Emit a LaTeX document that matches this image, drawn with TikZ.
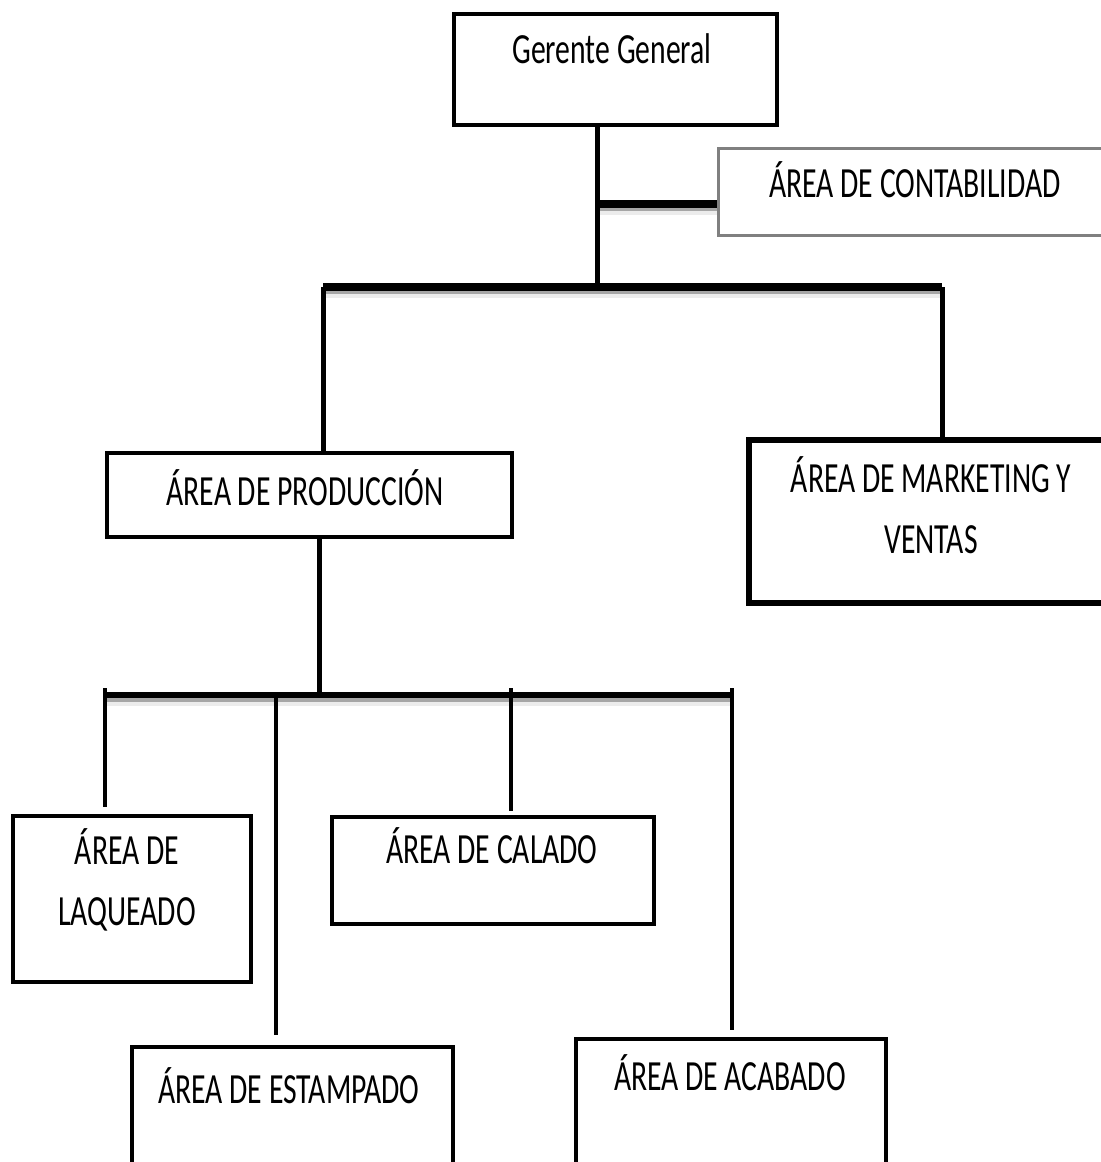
\documentclass[tikz,border=0pt]{standalone}
\usepackage{fontspec}
\setmainfont{Carlito}[FakeStretch=0.69]
\usepackage{xcolor}
\usetikzlibrary{positioning,fit}

\begin{document}
\begin{tikzpicture}[x=0.5pt,y=-0.5pt,
    box/.style={draw, line width=2pt, inner sep=0pt},
    lbl/.style={anchor=base, inner sep=0pt, align=center, font=\fontsize{21.5}{30.5}\selectfont},
    conn/.style={line width=2.5pt},
    bar/.style={line width=4pt,
        preaction={draw=gray!15, line width=4pt, transform canvas={yshift=-3.5pt}},
        preaction={draw=gray!70, line width=4pt, transform canvas={yshift=-1.5pt}}}]
    \useasboundingbox (0,0) rectangle (1101,1162);

    % Boxes
    \node[box, fit={(454,14) (777,125)}] (gg) {};
    \node[box, draw=gray, line width=1.5pt, fit={(718,148) (1110,235)}] (cont) {};
    \node[box, line width=1.8pt, fit={(107,453) (512,537)}] (prod) {};
    \node[box, line width=3pt, fit={(749,440) (1110,603)}] (mkt) {};
    \node[box, fit={(13,816) (251,982)}] (laq) {};
    \node[box, fit={(332,817) (654,924)}] (cal) {};
    \node[box, fit={(132,1047) (453,1175)}] (est) {};
    \node[box, fit={(576,1039) (886,1175)}] (aca) {};

    % Texts (base = last line)
    \node[lbl] (ggtext) at (612,63) {Gerente General};
    \node[lbl] (conttext) at (915,197) {ÁREA DE CONTABILIDAD};
    \node[lbl] (prodtext) at (305,505) {ÁREA DE PRODUCCIÓN};
    \node[lbl] (mkttext) at (931,553) {ÁREA DE MARKETING Y\\VENTAS};
    \node[lbl] (laqtext) at (127,925) {ÁREA DE\\LAQUEADO};
    \node[lbl] (caltext) at (492,863) {ÁREA DE CALADO};
    \node[lbl] (esttext) at (289,1103) {ÁREA DE ESTAMPADO};
    \node[lbl] (acatext) at (730,1090) {ÁREA DE ACABADO};

    % Upper level
    \coordinate (topbar) at (597,287);
    \coordinate (cstub) at (597,204);
    \coordinate (barL) at (323,287);
    \coordinate (barR) at (942,287);
    \draw[bar] (cstub) -- (cstub -| cont.west);
    \draw[bar] (barL) -- (barR);
    \draw[conn] (gg.south -| topbar) -- (topbar);
    \draw[conn] (barL) -- (barL |- prod.north);
    \draw[conn] (barR) -- (barR |- mkt.north);

    % Production areas
    \coordinate (lowbar) at (319,694);
    \coordinate (lowL) at (105,695);
    \coordinate (lowR) at (732,695);
    \draw[bar, line width=3pt] (lowL) -- (lowR);
    \draw[conn] (prod.south -| lowbar) -- (lowbar);
    \foreach \n/\x/\ytop/\gap in {laq/105/688/3.5pt, est/276/698/5pt, cal/511/688/2pt, aca/732/688/3.5pt} {
        \coordinate (drop) at (\x,\ytop);
        \draw[conn, line width=2.2pt, shorten >=\gap] (drop) -- (drop |- \n.north);
    }
\end{tikzpicture}
\end{document}
